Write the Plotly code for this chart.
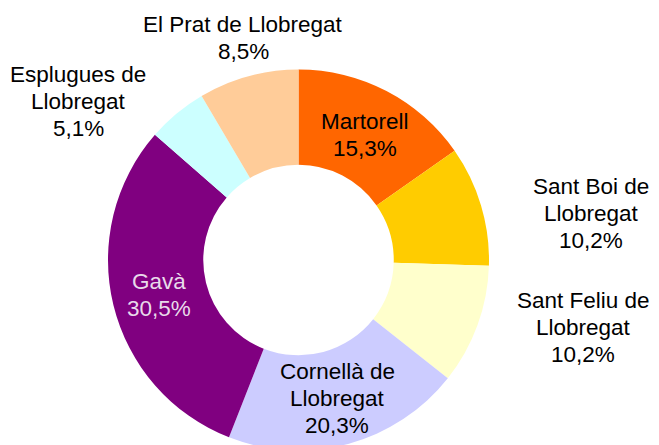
import plotly.graph_objects as go

# Data
municipis = ["Martorell", "Sant Boi de Llobregat", "Sant Feliu de Llobregat",
             "Cornellà de Llobregat", "Gavà", "Esplugues de Llobregat",
             "El Prat de Llobregat"]
linies_etiqueta = [["Martorell"], ["Sant Boi de", "Llobregat"], ["Sant Feliu de", "Llobregat"],
                   ["Cornellà de", "Llobregat"], ["Gavà"], ["Esplugues de", "Llobregat"],
                   ["El Prat de Llobregat"]]
percentatges = [15.3, 10.2, 10.2, 20.3, 30.5, 5.1, 8.5]

colors = ["#FF6600", "#FFCC00", "#FFFFCC", "#CCCCFF", "#800080", "#CCFFFF", "#FFCC99"]
text_colors = ["#000000", "#000000", "#000000", "#000000", "#E8DAEA", "#000000", "#000000"]

W, H = 659, 445
OFF = 8  # page body margin
# label centre positions in screen pixels (from top-left)
label_pos = [(365, 135), (591, 213), (583, 327), (337, 398), (159, 295), (78, 101), (243, 38)]
LINE = 27

cx, cy, r = 298.5 - OFF, 260 - OFF, 190.5

fig = go.Figure(go.Pie(
    labels=municipis,
    values=percentatges,
    marker=dict(colors=colors, line=dict(width=0)),
    hole=0.5,
    sort=False,
    direction="clockwise",
    rotation=0,
    textinfo="none",
    hoverinfo="label+percent",
    showlegend=False,
    domain=dict(x=[(cx - r) / W, (cx + r) / W], y=[(H - cy - r) / H, (H - cy + r) / H]),
))

annotations = []
for lines, pct, (px, py), tc in zip(linies_etiqueta, percentatges, label_pos, text_colors):
    all_lines = lines + [f"{pct:.1f}%".replace(".", ",")]
    n = len(all_lines)
    for i, t in enumerate(all_lines):
        ly = py - OFF + (i - (n - 1) / 2) * LINE
        annotations.append(dict(
            x=(px - OFF) / W, y=1 - ly / H, xref="paper", yref="paper",
            xanchor="center", yanchor="middle",
            text=t, showarrow=False, align="center",
            font=dict(family="Liberation Sans, Arial, sans-serif", size=22.5, color=tc),
        ))

fig.update_layout(
    width=W, height=H,
    margin=dict(l=0, r=0, t=0, b=0),
    paper_bgcolor="white",
    plot_bgcolor="white",
    annotations=annotations,
)

fig.write_html("out.html")
